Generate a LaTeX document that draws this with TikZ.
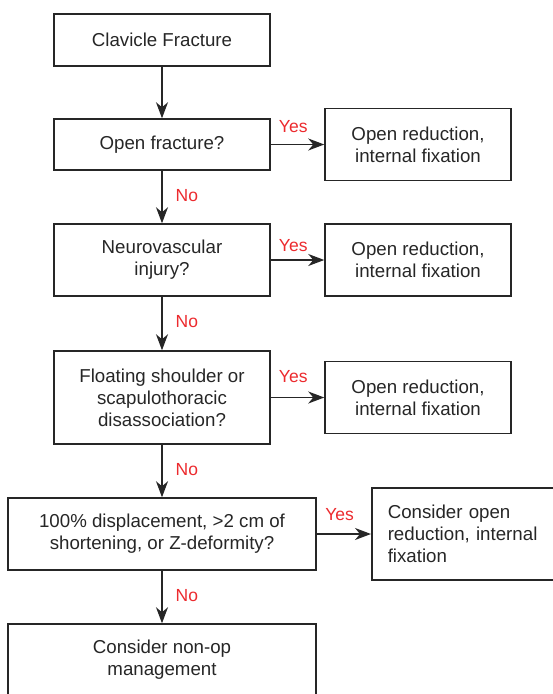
\documentclass[tikz,border=0pt]{standalone}
\usepackage{fontspec}
\setmainfont{Liberation Sans}
\usetikzlibrary{arrows.meta}
\definecolor{ink}{HTML}{262626}
\definecolor{lbl}{HTML}{EC2A2E}
\begin{document}
\begin{tikzpicture}[x=1pt,y=-1pt,
  box/.style={draw=ink, line width=1.5pt, text=ink, align=center, inner sep=0pt,
    font=\fontsize{18.7}{22}\selectfont},
  mainbox/.style={box, minimum width=216pt},
  widebox/.style={box, minimum width=308pt, minimum height=72pt},
  sidebox/.style={box, minimum width=186pt, minimum height=72pt},
  arr/.style={draw=ink, line width=1.4pt, -{Stealth[length=16pt,width=12pt,inset=5pt]}},
  lab/.style={text=lbl, font=\fontsize{17.5}{20}\selectfont, inner sep=0pt}]
\useasboundingbox (0,0) rectangle (553,694);
\clip (0,0) rectangle (553,694);

% main column
\node[mainbox, minimum height=52pt] (b1) at (162,40) {Clavicle Fracture};
\node[mainbox, minimum height=51pt] (b2) at (162,144.5) {Open fracture?};
\node[mainbox, minimum height=72pt] (b3) at (162,260) {Neurovascular\\injury?};
\node[mainbox, minimum height=93pt] (b4) at (162,397.5) {Floating shoulder or\\scapulothoracic\\disassociation?};
\node[widebox] (b5) at (162,534) {100\% displacement, >2 cm of\\shortening, or Z-deformity?};
\node[widebox] (b6) at (162,660) {Consider non-op\\management};

% side column
\node[sidebox] (r1) at (418,144.5) {Open reduction,\\internal fixation};
\node[sidebox] (r2) at (418,260) {Open reduction,\\internal fixation};
\node[sidebox] (r3) at (418,397.5) {Open reduction,\\internal fixation};
\node[box, anchor=west, minimum height=92pt, text width=160pt, align=left, inner xsep=16pt] (r4) at (371,534) {Consider open\\reduction, internal\\fixation};

% vertical connectors
\draw[arr] (b1) -- (b2);
\draw[arr] (b2) -- node[lab, right=13pt, yshift=1.5pt] (n1) {No} (b3);
\draw[arr] (b3) -- node[lab, right=13pt, yshift=1.5pt] (n2) {No} (b4);
\draw[arr] (b4) -- node[lab, right=13pt, yshift=1.5pt] (n3) {No} (b5);
\draw[arr] (b5) -- node[lab, right=13pt, yshift=1.5pt] (n4) {No} (b6);

% horizontal connectors
\draw[arr] (b2.east) -- node[lab, pos=0.42, above=11pt] (y1) {Yes} (b2.east -| r1.west);
\draw[arr] (b3.east) -- node[lab, pos=0.42, above=7.7pt] (y2) {Yes} (b3.east -| r2.west);
\draw[arr] (b4.east) -- node[lab, pos=0.42, above=14pt] (y3) {Yes} (b4.east -| r3.west);
\draw[arr] (b5.east) -- node[lab, pos=0.42, above=12.7pt] (y4) {Yes} (b5.east -| r4.west);
\end{tikzpicture}
\end{document}
